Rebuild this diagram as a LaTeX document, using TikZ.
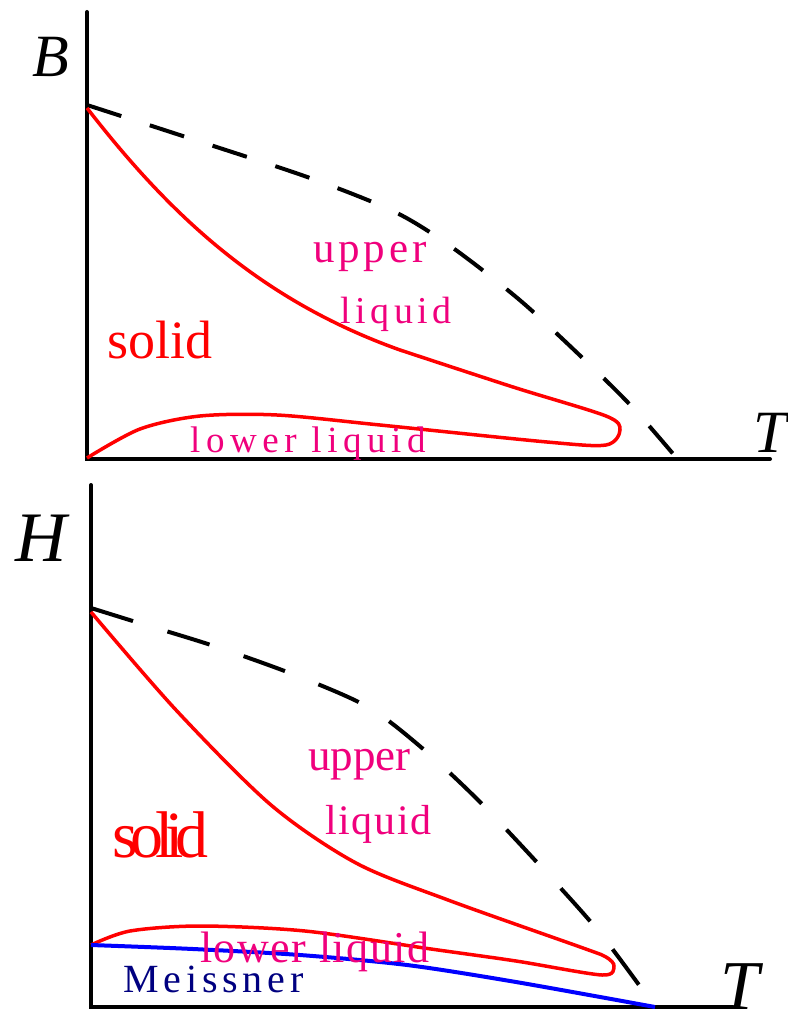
\documentclass[tikz,border=0pt]{standalone}
\usepackage{fontspec}
\setmainfont{Liberation Serif}
\usetikzlibrary{positioning}
\definecolor{liqpink}{RGB}{240,0,125}
\definecolor{meissblue}{RGB}{0,0,128}

\begin{document}
\begin{tikzpicture}[x=1pt, y=-1pt,
  axisline/.style={line width=4pt, line cap=round},
  critline/.style={line width=4pt, dash pattern=on 36pt off 30pt},
  meltline/.style={red, line width=3.5pt},
  lbl/.style={inner sep=0pt, anchor=base west},
  every node/.style={font=\small}]
  \useasboundingbox[fill=white] (0,0) rectangle (787,1016);

  % B-T panel
  \coordinate (oB) at (87,459);
  \draw[axisline] (87,12) -- (oB) -- (770,459);
  \node[lbl, font=\fontsize{60}{60}\selectfont\itshape] (labB) at (32,77) {B};
  \node[lbl, font=\fontsize{60}{60}\selectfont\itshape] (labT1) at (753,452) {T};
  \draw[critline] plot[smooth] coordinates {(87,105) (195,140) (310,178) (395,212) (453,248) (522,302) (592,367) (635,410) (680,462)};
  \draw[meltline] (87,108) .. controls (170,215) and (260,300) .. (400,350)
    -- plot[smooth] coordinates {(400,350) (513,387) (606,416) (620,430) (606,445) (547,442) (380,425) (277,415) (200,416) (140,429) (87,458)};
  \node[lbl, liqpink, font=\fontsize{43}{43}\selectfont\addfontfeature{LetterSpace=9}] (up1) at (313,262) {upper};
  \node[lbl, liqpink, font=\fontsize{38}{38}\selectfont\addfontfeature{LetterSpace=12}] (liq1) at (340,323) {liquid};
  \node[lbl, red, font=\fontsize{54}{54}\selectfont] (sol1) at (107,358) {solid};
  \node[lbl, liqpink, font=\fontsize{37}{37}\selectfont\addfontfeature{LetterSpace=15}] (low1) at (190,452) {lower liquid};

  % H-T panel
  \coordinate (oH) at (91,1007);
  \draw[axisline] (91,485) -- (oH) -- (733,1007);
  \node[lbl, font=\fontsize{71}{71}\selectfont\itshape] (labH) at (15,561) {H};
  \node[lbl, font=\fontsize{70}{70}\selectfont\itshape] (labT2) at (720,1009) {T};
  \draw[critline, dash pattern=on 44pt off 36pt] plot[smooth] coordinates {(91,608) (136,622) (214,646) (295,675) (368,707) (422,748) (478,800) (544,870) (600,933) (655,1007)};
  \draw[meltline] plot[smooth] coordinates {(91,612) (176,710) (271,805) (356,863) (448,900) (583,948) (606,957) (614,966) (602,975) (516,961) (431,949) (305,931) (200,926) (130,931) (91,945)};
  \draw[blue, line width=4pt] plot[smooth] coordinates {(91,945) (193,949) (300,955) (407,965) (516,982) (655,1007)};
  \node[lbl, liqpink, font=\fontsize{45}{45}\selectfont] (up2) at (308,770) {upper};
  \node[lbl, liqpink, font=\fontsize{42}{42}\selectfont\addfontfeature{LetterSpace=4}] (liq2) at (325,834) {liquid};
  \node[lbl, red, font=\fontsize{66}{66}\selectfont\addfontfeature{LetterSpace=-12}] (sol2) at (112,857) {solid};
  \node[lbl, liqpink, font=\fontsize{44}{44}\selectfont\addfontfeature{LetterSpace=3.5}] (low2) at (200,962) {lower liquid};
  \node[lbl, meissblue, font=\fontsize{40}{40}\selectfont\addfontfeature{LetterSpace=12}] (meis) at (123,992) {Meissner};
\end{tikzpicture}
\end{document}
